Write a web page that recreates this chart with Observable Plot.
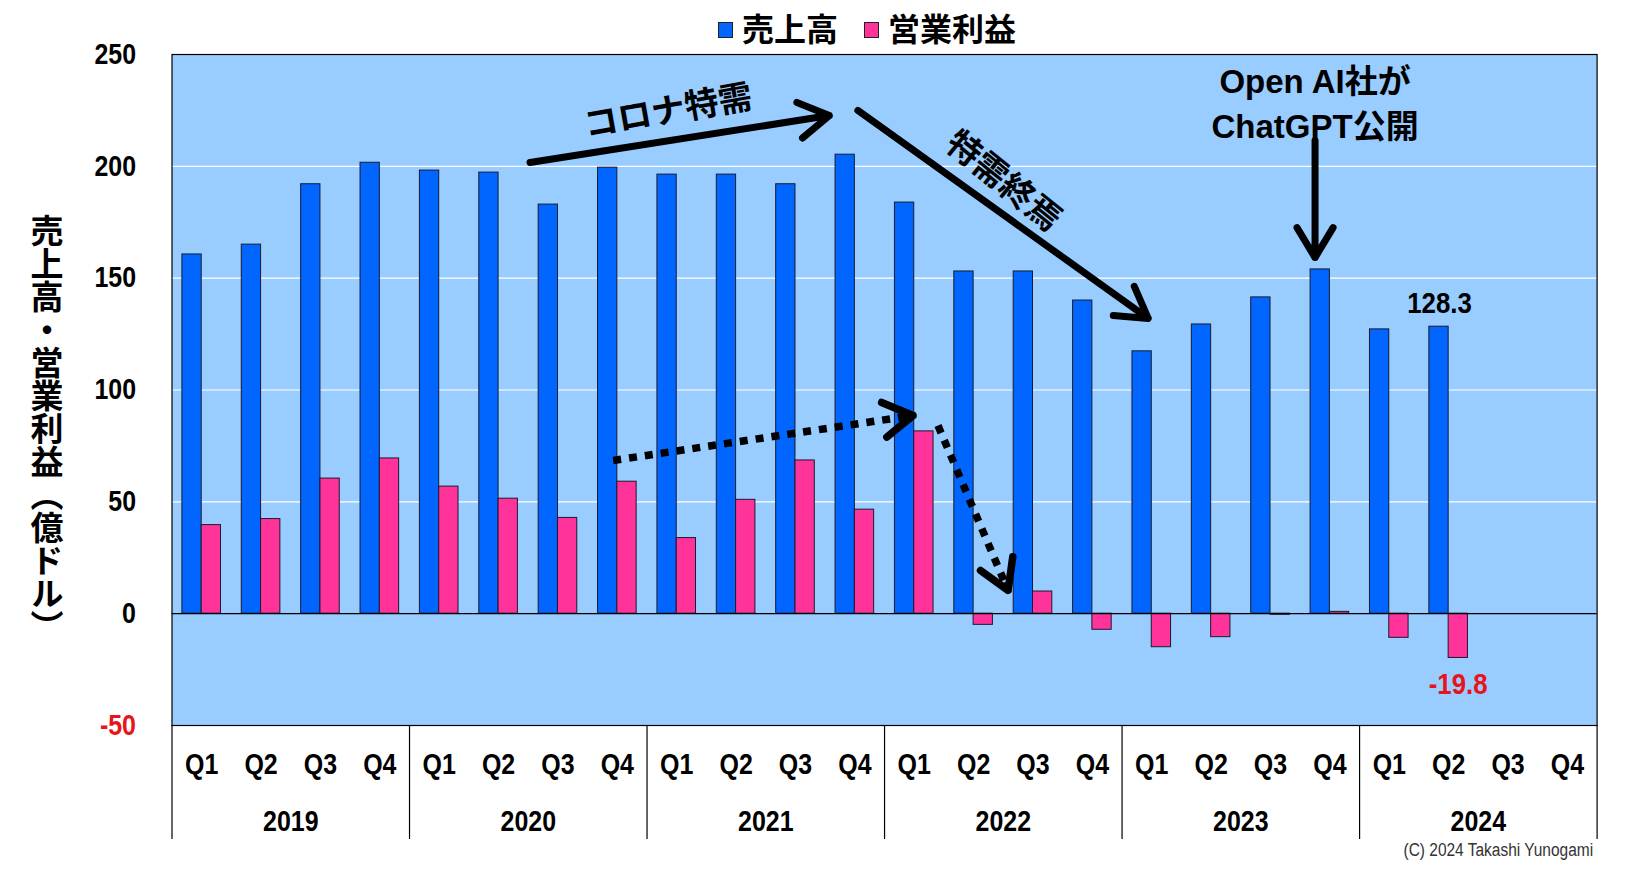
<!DOCTYPE html>
<html><head><meta charset="utf-8">
<script src="https://cdn.jsdelivr.net/npm/d3@7"></script>
<script src="https://cdn.jsdelivr.net/npm/@observablehq/plot@0.6"></script>
<style>
body{margin:0;background:#fff;}
#wrap{position:relative;width:1626px;height:890px;overflow:hidden;}
#wrap svg{position:absolute;left:0;top:0;}
.cjk{font-family:"Liberation Sans","Noto Sans CJK JP",sans-serif;font-weight:bold;color:#000;}
#legend{position:absolute;top:9px;left:0;width:1626px;text-align:center;font-size:32px;line-height:36px;white-space:nowrap;padding-left:108px;box-sizing:border-box;}
#legend .item{display:inline-flex;align-items:center;margin:0 13px;}
#legend .sw{display:inline-block;width:13px;height:14px;border:1px solid #222;margin-right:9px;}
#ytitle{position:absolute;left:26px;top:214px;font-size:33px;writing-mode:vertical-rl;text-orientation:mixed;line-height:36px;letter-spacing:0;}
</style></head><body>
<div id="wrap">
  <div id="legend" class="cjk"></div>
  <div id="ytitle" class="cjk"></div>
</div>
<script>
// ---- data ----
const years = ["2019","2020","2021","2022","2023","2024"];
const quarters = ["Q1","Q2","Q3","Q4"];
const revenue = [160.6,165.0,192.0,201.6, 198.1,197.2,182.9,199.4, 196.3,196.3,192.0,205.2, 183.8,153.0,153.0,140.0, 117.3,129.3,141.4,153.9, 127.1,128.3];
const opIncome = [39.6,42.3,60.4,69.4, 56.8,51.4,42.8,59.0, 33.8,50.9,68.5,46.5, 81.5,-5.0,9.9,-7.2, -15.0,-10.5,-0.5,0.8, -10.8,-19.8];
const yTicks = [-50,0,50,100,150,200,250];
const gridTicks = [50,100,150,200];
const seriesNames = ["売上高","営業利益"];
const seriesColors = ["#0066FF","#FF3399"];
const yTitle = "売上高・営業利益（億ドル）";
const copyright = "(C) 2024 Takashi Yunogami";
// annotations: x in quarter-slot units, y in value units
const solidArrows = [
  {x1:6.03,y1:201.7,x2:11.07,y2:222.7},
  {x1:11.55,y1:225.0,x2:16.44,y2:132.0},
  {x1:19.25,y1:211.5,x2:19.25,y2:159.2}
];
const dottedArrows = [
  {x1:7.43,y1:68.5,x2:12.48,y2:88.6, len:303},
  {x1:12.90,y1:84.1,x2:14.08,y2:10.4, len:179}
];
const notes = [
  {x:8.36,y:224.5,text:"コロナ特需",rotate:-10},
  {x:14.0,y:193.2,text:"特需終焉",rotate:39}
];
const chatNotes = [
  {x:19.25,y:237.5,text:"Open AI社が"},
  {x:19.25,y:217.4,text:"ChatGPT公開"}
];

// ---- derived tables ----
const slots = [];
years.forEach((yr, yi) => quarters.forEach((q, qi) => slots.push({i: yi*4+qi, q, yr})));
const revData = revenue.map((v, i) => ({i, v}));
const opData = opIncome.map((v, i) => ({i, v}));
const yearData = years.map((yr, yi) => ({yr, c: yi*4 + 2}));
const boundaries = d3.range(0, years.length*4 + 1, 4);
const lastI = revenue.length - 1;

const FONT = '"Liberation Sans","Noto Sans CJK JP",sans-serif';

const W = 1626, H = 890, mT = 54, mB = 165, mL = 171.5, mR = 29.4;
const frameH = H - mT - mB;
const fmt = d => `${d}`;

const chart = Plot.plot({
  width: W, height: H,
  marginLeft: mL, marginRight: mR, marginTop: mT, marginBottom: mB,
  style: {fontFamily: FONT, background: "transparent", overflow: "visible"},
  x: {domain: [0, years.length*4], axis: null},
  y: {domain: [-50, 250], axis: null},
  marks: [
    Plot.frame({fill: "#99CCFF"}),
    Plot.gridY(gridTicks, {stroke: "#ffffff", strokeOpacity: 1, strokeWidth: 1.2}),
    Plot.rectY(revData, {x1: d => d.i + 0.175, x2: d => d.i + 0.5, y1: 0, y2: "v", fill: seriesColors[0], stroke: "#1a1a2e", strokeWidth: 1}),
    Plot.rectY(opData, {x1: d => d.i + 0.5, x2: d => d.i + 0.825, y1: 0, y2: "v", fill: seriesColors[1], stroke: "#1a1a2e", strokeWidth: 1}),
    Plot.ruleY([0], {stroke: "#000", strokeWidth: 1.2}),
    Plot.frame({stroke: "#000", strokeWidth: 1.2}),
    // y tick labels
    Plot.axisY(yTicks, {tickSize: 0, tickPadding: 36, tickFormat: fmt, fontSize: 29, fontWeight: "bold", fill: d => d < 0 ? "#e8141b" : "#000", label: null}),
    // x category axis (quarters + years)
    Plot.text(slots, {x: d => d.i + 0.5, text: "q", frameAnchor: "bottom", dy: 48, fontSize: 29, fontWeight: "bold", fill: "#000"}),
    Plot.text(yearData, {x: "c", text: "yr", frameAnchor: "bottom", dy: 105, fontSize: 29, fontWeight: "bold", fill: "#000"}),
    Plot.ruleX(boundaries, {insetTop: frameH, insetBottom: -114, stroke: "#000", strokeWidth: 1.2}),
    // annotations
    Plot.arrow(solidArrows, {x1: "x1", y1: "y1", x2: "x2", y2: "y2", stroke: "#000", strokeWidth: 7, headLength: 7.5, headAngle: 62}),
    Plot.link(dottedArrows, {x1: "x1", y1: "y1", x2: "x2", y2: "y2", stroke: "#000", strokeWidth: 7.5, strokeDasharray: "8,8", strokeLinecap: "butt"}),
    ...dottedArrows.map(a => Plot.arrow([a], {x1: "x1", y1: "y1", x2: "x2", y2: "y2", stroke: "#000", strokeWidth: 7.5, headLength: 6.8, headAngle: 62, insetStart: a.len - 5})),
    Plot.text(notes, {x: "x", y: "y", text: "text", rotate: "rotate", fontSize: 34, fontWeight: "bold", fill: "#000"}),
    Plot.text(chatNotes, {x: "x", y: "y", text: "text", fontSize: 33, fontWeight: "bold", fill: "#000"}),
    Plot.text([revData[lastI]], {x: d => d.i + 0.33, y: "v", text: d => d.v.toFixed(1), dy: -23, dx: 1, fontSize: 30, fontWeight: "bold", fill: "#000"}),
    Plot.text([opData[lastI]], {x: d => d.i + 0.66, y: "v", text: d => d.v.toFixed(1), dy: 26, fontSize: 30, fontWeight: "bold", fill: "#e8141b"}),
    Plot.text([copyright], {frameAnchor: "bottom-right", textAnchor: "end", dy: 130, dx: -4, fontSize: 18, fontWeight: "normal", fill: "#333"})
  ]
});
document.getElementById("wrap").appendChild(chart);
// condensed look for Latin-only labels (reference uses a narrow typeface)
chart.querySelectorAll("text").forEach(t => {
  if (t.querySelector("tspan")) return;
  const s = t.textContent;
  if (!/^[\x20-\x7E]+$/.test(s)) return;
  const L = t.getComputedTextLength();
  if (L > 0) { t.setAttribute("textLength", (L * 0.86).toFixed(1)); t.setAttribute("lengthAdjust", "spacingAndGlyphs"); }
});
// legend
const lg = document.getElementById("legend");
seriesNames.forEach((n, k) => {
  const s = document.createElement("span"); s.className = "item";
  const sw = document.createElement("span"); sw.className = "sw"; sw.style.background = seriesColors[k];
  s.appendChild(sw); s.appendChild(document.createTextNode(n)); lg.appendChild(s);
});
document.getElementById("ytitle").textContent = yTitle;
</script>
</body></html>
